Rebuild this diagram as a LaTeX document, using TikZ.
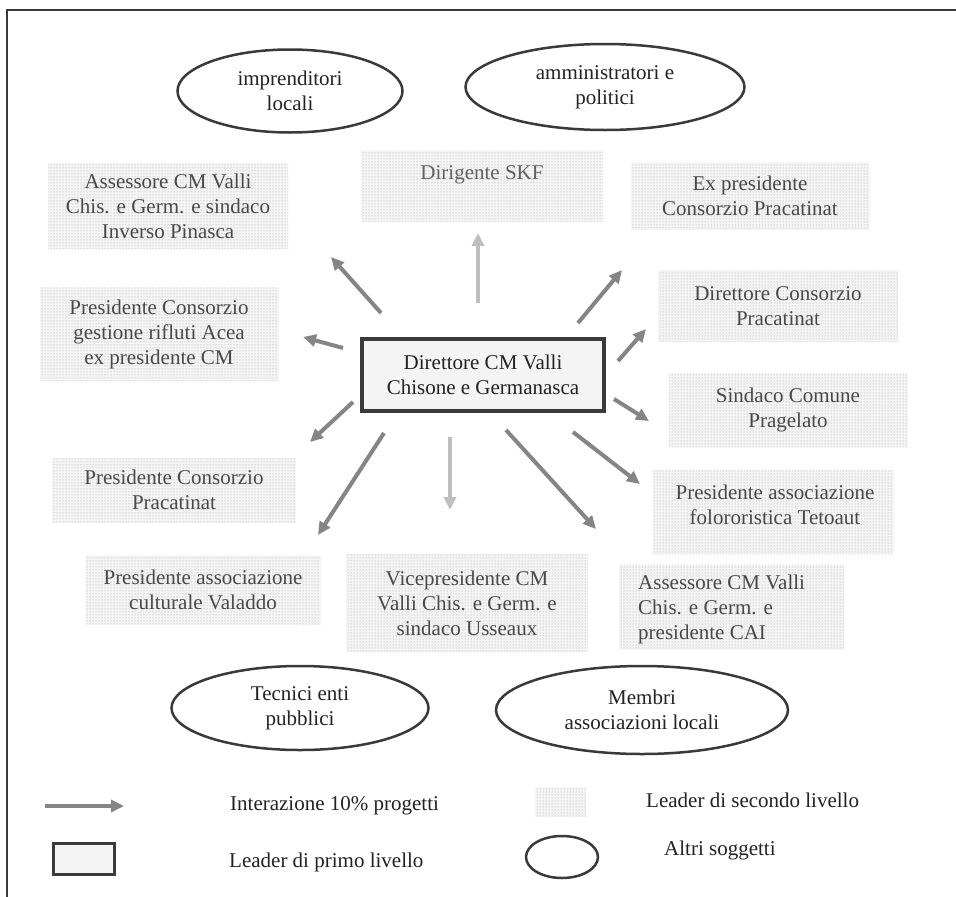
\documentclass[tikz,border=0pt]{standalone}
\usepackage{fontspec}
\setmainfont{Liberation Serif}
\usetikzlibrary{shapes.geometric,arrows.meta,patterns}
\definecolor{arrdark}{HTML}{858585}
\definecolor{arrlight}{HTML}{BEBEBE}
\definecolor{edgec}{HTML}{3A3A3A}
\definecolor{boxtxt}{HTML}{484848}
\definecolor{maintxt}{HTML}{222222}
\begin{document}
\begin{tikzpicture}[x=1pt,y=-1pt,
  txtfont/.style={font=\fontsize{21}{25}\selectfont},
  dotbox/.style={txtfont, preaction={fill=gray!8}, pattern=dots, pattern color=gray!80,
                 text=boxtxt, align=center, inner sep=0pt},
  btext/.style={txtfont, text=boxtxt, inner sep=0pt},
  oval/.style={ellipse, draw=edgec, line width=2.5pt, inner sep=0pt, txtfont,
               align=center, text=maintxt},
  lead/.style={draw=edgec, line width=3.5pt, fill=gray!9, txtfont, align=center,
               text=maintxt, inner sep=0pt},
  legtext/.style={txtfont, text=maintxt, inner sep=0pt, anchor=west},
  arr/.style={draw=arrdark, line width=4pt, -{Triangle[length=13pt,width=12pt]}},
  arrl/.style={arr, draw=arrlight}]
\useasboundingbox (0,0) rectangle (956,897);
\fill[white] (0,0) rectangle (956,897);
% frame
\draw[line width=2pt, edgec] (7,897) -- (7,10) -- (956,10);

% ellipses (other subjects)
\node[oval, minimum width=225pt, minimum height=83pt] (imp) at (290,91) {imprenditori\\locali};
\node[oval, minimum width=279pt, minimum height=86pt] (amm) at (605,87) {amministratori e\\politici};
\node[oval, minimum width=257pt, minimum height=84pt] (tec) at (300,708) {Tecnici enti\\pubblici};
\node[oval, minimum width=292pt, minimum height=88pt] (mem) at (642,710) {Membri\\associazioni locali};

% second-level leaders
\node[dotbox, minimum width=240pt, minimum height=86pt] (asstl) at (168,206)
  {Assessore CM Valli\\Chis. e Germ. e sindaco\\Inverso Pinasca};
\node[dotbox, minimum width=242pt, minimum height=71pt] (skf) at (482,186) {};
\node[btext, text=gray!75!black] (skft) at (482,175) {Dirigente SKF};
\node[dotbox, minimum width=239pt, minimum height=67pt] (expr) at (750,196)
  {Ex presidente\\Consorzio Pracatinat};
\node[dotbox, minimum width=239pt, minimum height=93pt] (acea) at (159,334)
  {Presidente Consorzio\\gestione rifluti Acea\\ex presidente CM};
\node[dotbox, minimum width=240pt, minimum height=71pt] (dirc) at (778,306)
  {Direttore Consorzio\\Pracatinat};
\node[dotbox, minimum width=239pt, minimum height=74pt] (sind) at (788,410)
  {Sindaco Comune\\Pragelato};
\node[dotbox, minimum width=244pt, minimum height=65pt] (prac) at (174,490)
  {Presidente Consorzio\\Pracatinat};
\node[dotbox, minimum width=241pt, minimum height=84pt] (teto) at (773,512) {};
\node[btext, align=center] (tetot) at (775,505) {Presidente associazione\\folororistica Tetoaut};
\node[dotbox, minimum width=235pt, minimum height=69pt] (vala) at (203,590)
  {Presidente associazione\\culturale Valaddo};
\node[dotbox, minimum width=242pt, minimum height=98pt] (vice) at (467,603)
  {Vicepresidente CM\\Valli Chis. e Germ. e\\sindaco Usseaux};
\node[dotbox, minimum width=225pt, minimum height=85pt] (cai) at (731,607) {};
\node[btext, align=left, anchor=west] (cait) at (638,609) {Assessore CM Valli\\Chis. e Germ. e\\presidente CAI};

% first-level leader
\node[lead, minimum width=242pt, minimum height=72pt] (dir) at (483,375)
  {Direttore CM Valli\\Chisone e Germanasca};

% arrow endpoints
\coordinate (a1s) at (478,303); \coordinate (a1e) at (478,233);
\coordinate (a2s) at (381,313); \coordinate (a2e) at (331,257);
\coordinate (a3s) at (578,323); \coordinate (a3e) at (622,270);
\coordinate (a4s) at (343,348); \coordinate (a4e) at (303,337);
\coordinate (a5s) at (353,402); \coordinate (a5e) at (310,442);
\coordinate (a6s) at (384,433); \coordinate (a6e) at (318,535);
\coordinate (a7s) at (450,437); \coordinate (a7e) at (450,510);
\coordinate (a8s) at (506,430); \coordinate (a8e) at (596,529);
\coordinate (a9s) at (573,432); \coordinate (a9e) at (640,484);
\coordinate (a10s) at (614,399); \coordinate (a10e) at (649,421);
\coordinate (a11s) at (618,361); \coordinate (a11e) at (646,329);

\draw[arrl] (a1s) -- (a1e);
\draw[arr] (a2s) -- (a2e);
\draw[arr] (a3s) -- (a3e);
\draw[arr] (a4s) -- (a4e);
\draw[arr] (a5s) -- (a5e);
\draw[arr] (a6s) -- (a6e);
\draw[arrl] (a7s) -- (a7e);
\draw[arr] (a8s) -- (a8e);
\draw[arr] (a9s) -- (a9e);
\draw[arr] (a10s) -- (a10e);
\draw[arr] (a11s) -- (a11e);

% legend
\coordinate (la1) at (45,806); \coordinate (la2) at (124,806);
\draw[arr, line width=4.5pt] (la1) -- (la2);
\node[legtext] (lt1) at (230,806) {Interazione 10\% progetti};
\node[lead, minimum width=61pt, minimum height=31pt] (lrect) at (84,859) {};
\node[legtext] (lt2) at (229,862) {Leader di primo livello};
\node[dotbox, minimum width=51pt, minimum height=30pt] (ldot) at (560,802) {};
\node[legtext] (lt3) at (646,800) {Leader di secondo livello};
\node[oval, minimum width=72pt, minimum height=42pt] (lell) at (562,857) {};
\node[legtext] (lt4) at (664,850) {Altri soggetti};
\end{tikzpicture}
\end{document}
